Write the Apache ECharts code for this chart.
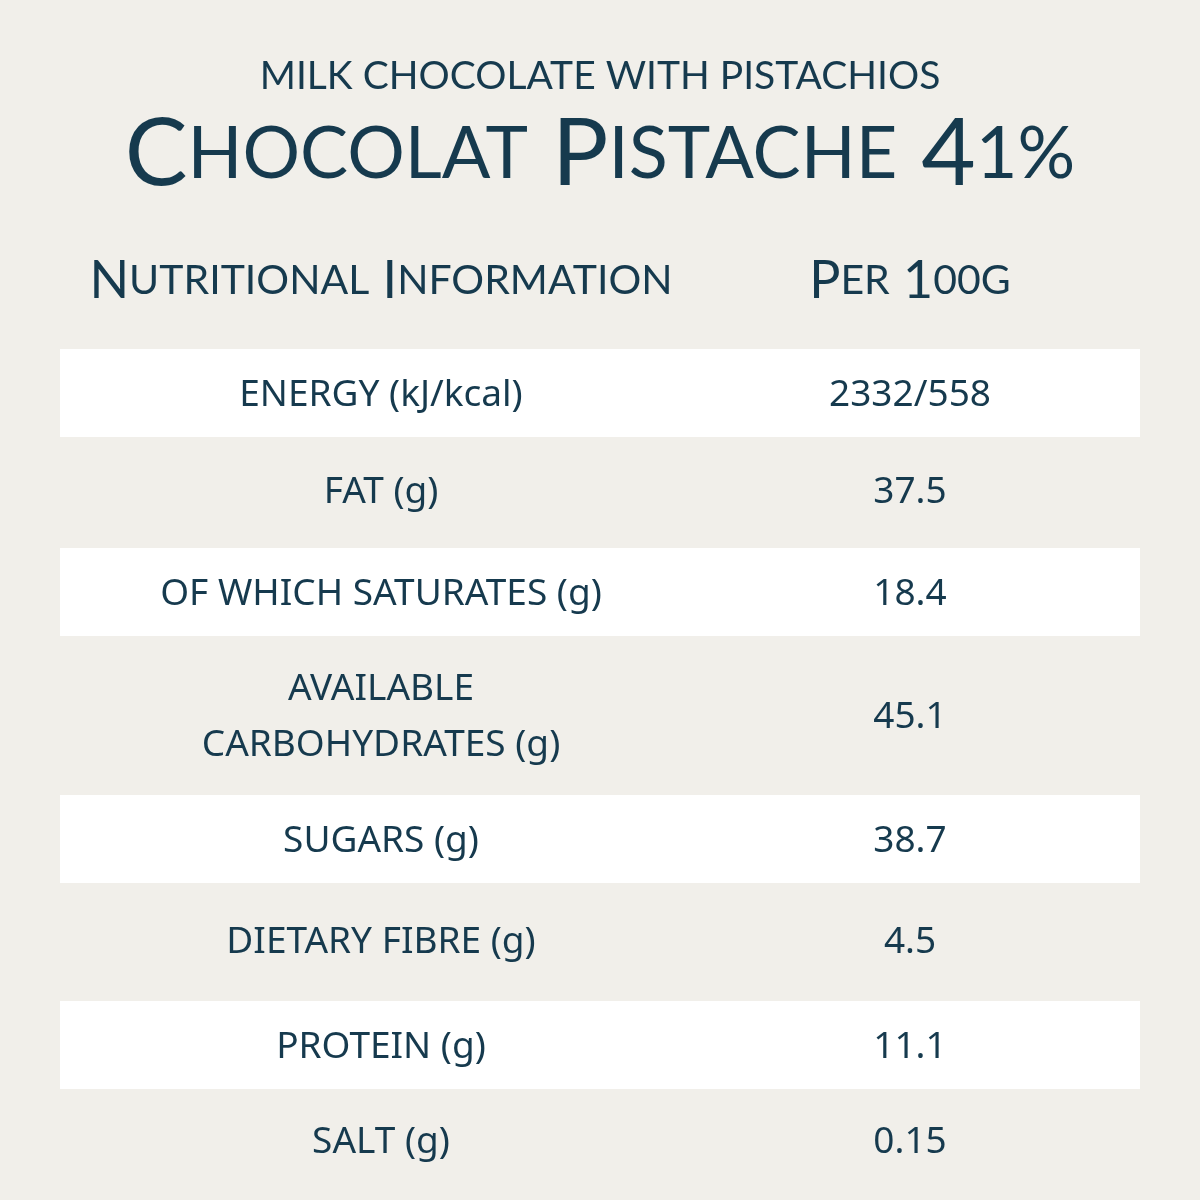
<!DOCTYPE html>
<html><head><meta charset="utf-8">
<script src="https://cdn.jsdelivr.net/npm/echarts@6/dist/echarts.min.js"></script>
<style>html,body{margin:0;padding:0;background:#f1efea}#c{width:1200px;height:1200px}</style>
</head><body><div id="c"></div>
<script>
const subtitle = "MILK CHOCOLATE WITH PISTACHIOS";
const titleWords = ["Chocolat", "Pistache", "41%"];
const headerLeft = ["Nutritional", "Information"];
const headerRight = ["Per", "100g"];
const nutrients = ["ENERGY (kJ/kcal)", "FAT (g)", "OF WHICH SATURATES (g)", "AVAILABLE\nCARBOHYDRATES (g)", "SUGARS (g)", "DIETARY FIBRE (g)", "PROTEIN (g)", "SALT (g)"];
const values = ["2332/558", "37.5", "18.4", "45.1", "38.7", "4.5", "11.1", "0.15"];

const C = '#163a4e';
const rowTops = [349, 437, 548, 636, 795, 883, 1001, 1089, 1195];
const bands = [0, 2, 4, 6];

function smallCaps(words){
  return words.map(w => {
    const first = w[0], rest = w.slice(1).toUpperCase();
    return '{b|' + first + '}' + (rest ? '{s|' + rest + '}' : '');
  }).join('{b| }');
}
const rich = (big, small) => ({
  b: {fontSize: big, fontFamily: 'Lato', fontWeight: 400, fill: C},
  s: {fontSize: small, fontFamily: 'Lato', fontWeight: 400, fill: C}
});

const g = [];
bands.forEach(i => g.push({type:'rect', shape:{x:60, y:rowTops[i], width:1080, height:88}, style:{fill:'#ffffff'}}));
nutrients.forEach((n, i) => {
  const cy = (i === 3) ? 717 : (bands.includes(i) ? rowTops[i] + 46 : (rowTops[i] + rowTops[i+1]) / 2);
  g.push({type:'text', x:381, y:cy, style:{text:n, fill:C, font:'400 37px "Noto Sans"', align:'center', verticalAlign:'middle', lineHeight:56}});
  g.push({type:'text', x:910, y:cy, style:{text:values[i], fill:C, font:'400 37px "Noto Sans"', align:'center', verticalAlign:'middle'}});
});
g.push({type:'text', x:600, y:76, style:{text:subtitle, fill:C, font:'400 39px Lato', align:'center', verticalAlign:'middle'}});
g.push({type:'text', x:600, y:155, style:{text:smallCaps(titleWords), rich:rich(94, 72), align:'center', verticalAlign:'middle'}});
g.push({type:'text', x:381, y:281, style:{text:smallCaps(headerLeft), rich:rich(52, 41), align:'center', verticalAlign:'middle'}});
g.push({type:'text', x:910, y:281, style:{text:smallCaps(headerRight), rich:rich(52, 41), align:'center', verticalAlign:'middle'}});

const chart = echarts.init(document.getElementById('c'));
chart.setOption({backgroundColor:'#f1efea', graphic:{elements:g}});
</script></body></html>
